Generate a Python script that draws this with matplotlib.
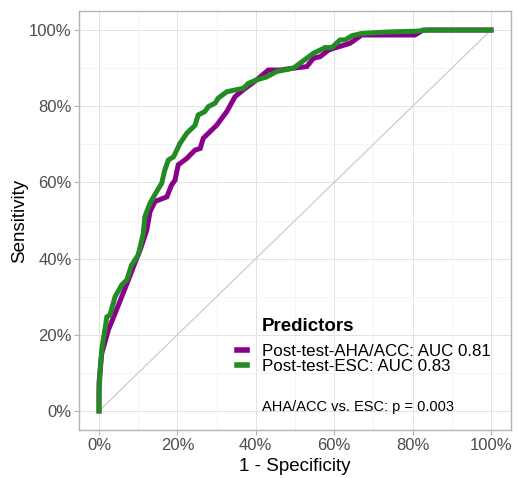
import numpy as np
import matplotlib
matplotlib.use('Agg')
import matplotlib.pyplot as plt
from matplotlib.ticker import MultipleLocator, PercentFormatter

plt.rcParams['font.family'] = ['Liberation Sans', 'DejaVu Sans']

# ROC curve of the AHA/ACC score (1 - specificity, sensitivity)
aha_fpr = [0, 0, 0.007, 0.024, 0.041, 0.058, 0.075, 0.088, 0.105, 0.122, 0.13, 0.143,
           0.173, 0.185, 0.194, 0.202, 0.224, 0.245, 0.258, 0.266, 0.30, 0.326, 0.347,
           0.368, 0.402, 0.432, 0.462, 0.496, 0.53, 0.547, 0.564, 0.585, 0.598, 0.64,
           0.67, 0.806, 0.827, 1.0]
aha_tpr = [0, 0.073, 0.151, 0.213, 0.256, 0.30, 0.344, 0.379, 0.423, 0.475, 0.523, 0.55,
           0.562, 0.593, 0.606, 0.646, 0.663, 0.685, 0.689, 0.716, 0.75, 0.786, 0.825,
           0.843, 0.869, 0.895, 0.895, 0.90, 0.904, 0.926, 0.93, 0.947, 0.952, 0.965,
           0.987, 0.987, 1.0, 1.0]

# ROC curve of the ESC score
esc_fpr = [0, 0, 0.004, 0.008, 0.015, 0.02, 0.028, 0.041, 0.058, 0.071, 0.083, 0.10,
           0.113, 0.117, 0.13, 0.147, 0.16, 0.168, 0.177, 0.19, 0.207, 0.224, 0.245,
           0.253, 0.27, 0.279, 0.296, 0.304, 0.326, 0.368, 0.381, 0.402, 0.428, 0.453,
           0.496, 0.513, 0.547, 0.577, 0.594, 0.615, 0.628, 0.645, 0.67, 0.738, 0.81,
           0.84, 1.0]
esc_tpr = [0, 0.046, 0.125, 0.169, 0.213, 0.247, 0.252, 0.30, 0.331, 0.344, 0.383, 0.409,
           0.466, 0.51, 0.545, 0.576, 0.598, 0.633, 0.659, 0.667, 0.703, 0.729, 0.75,
           0.777, 0.786, 0.799, 0.808, 0.821, 0.838, 0.847, 0.86, 0.869, 0.877, 0.891,
           0.90, 0.913, 0.939, 0.954, 0.954, 0.974, 0.974, 0.985, 0.991, 0.995, 0.997,
           1.0, 1.0]

labels = ['Post-test-AHA/ACC: AUC 0.81', 'Post-test-ESC: AUC 0.83']
colors = ['#8B008B', '#228B22']
legend_title = 'Predictors'
p_text = 'AHA/ACC vs. ESC: p = 0.003'

fig = plt.figure(figsize=(5.17, 4.78), dpi=100)
ax = fig.add_axes([0.1536, 0.1004, 0.834, 0.8766])

ax.plot([0, 1], [0, 1], color='#CCCCCC', lw=0.9, zorder=1)
ax.plot(aha_fpr, aha_tpr, color=colors[0], lw=3.6, label=labels[0], zorder=2,
        solid_joinstyle='miter')
ax.plot(esc_fpr, esc_tpr, color=colors[1], lw=3.6, label=labels[1], zorder=3,
        solid_joinstyle='miter')

ax.set_xlim(-0.05, 1.05)
ax.set_ylim(-0.05, 1.05)
ax.xaxis.set_major_locator(MultipleLocator(0.2))
ax.yaxis.set_major_locator(MultipleLocator(0.2))
ax.xaxis.set_minor_locator(MultipleLocator(0.1))
ax.yaxis.set_minor_locator(MultipleLocator(0.1))
ax.xaxis.set_major_formatter(PercentFormatter(1.0, decimals=0))
ax.yaxis.set_major_formatter(PercentFormatter(1.0, decimals=0))

ax.grid(which='major', color='#E3E3E3', lw=0.7)
ax.grid(which='minor', color='#F0F0F0', lw=0.5)
ax.set_axisbelow(True)
for s in ax.spines.values():
    s.set_color('#B3B3B3')
    s.set_linewidth(1.0)
ax.tick_params(which='major', length=3.5, width=0.8, color='#B3B3B3',
               labelsize=12, labelcolor='#4D4D4D', pad=2)
ax.tick_params(which='minor', length=0)

ax.set_xlabel('1 - Specificity', fontsize=13.5, labelpad=4)
ax.set_ylabel('Sensitivity', fontsize=13.5, labelpad=1)

leg = ax.legend(loc='upper left', bbox_to_anchor=(0.3655, 0.205), frameon=False,
                fontsize=12.2, handlelength=0.6, handletextpad=0.85,
                labelspacing=0.0, borderpad=0, borderaxespad=0)
for h in leg.legend_handles:
    h.set_linewidth(4.0)

ax.text(0.4235, 0.248, legend_title, transform=ax.transAxes, fontsize=13.5,
        fontweight='bold', va='center', ha='left')
ax.text(0.416, 0.01, p_text, fontsize=10.5, va='center', ha='left')

fig.savefig('out.png', dpi=100)
